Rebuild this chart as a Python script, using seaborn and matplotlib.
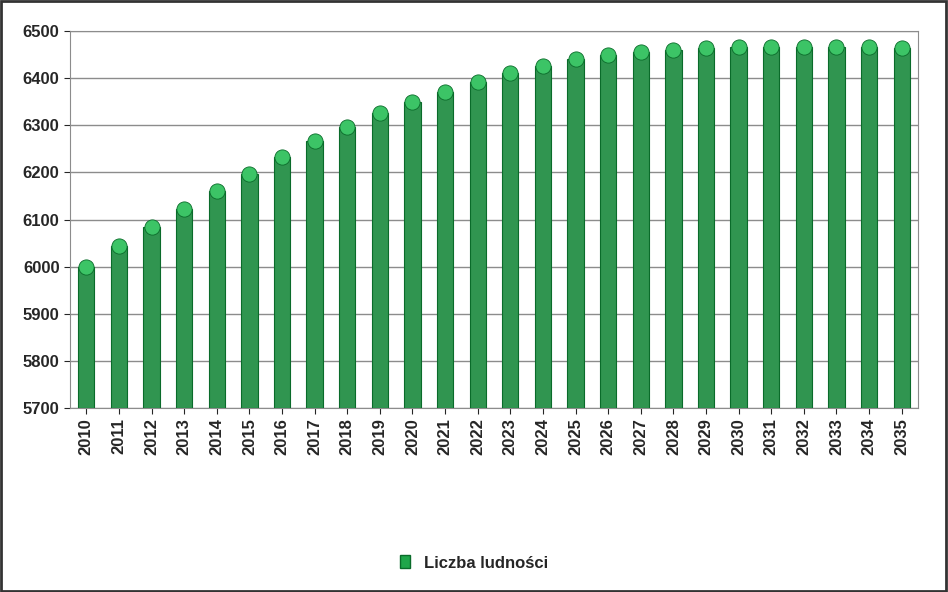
import matplotlib
matplotlib.use("Agg")
import matplotlib.pyplot as plt
import seaborn as sns
import pandas as pd
from matplotlib.patches import Patch

years = [str(y) for y in range(2010, 2036)]
values = [6000, 6043, 6085, 6122, 6160, 6197, 6233, 6266, 6297, 6325, 6350, 6370, 6392,
          6410, 6426, 6440, 6450, 6455, 6460, 6463, 6465, 6466, 6466, 6466, 6465, 6463]
series = "Liczba ludności"

sns.set_style("white")
plt.rcParams['font.family'] = ['Liberation Sans', 'DejaVu Sans']

df = pd.DataFrame({"year": years, "value": values})
fig = plt.figure(figsize=(9.48, 5.92), dpi=100)
fig.patch.set_facecolor("white")
fig.patches.append(matplotlib.patches.Rectangle((0.001, 0.001), 0.997, 0.997, transform=fig.transFigure,
                   fill=False, edgecolor="#333333", linewidth=2))
ax = fig.add_axes([70/948, 1-408/592, 848/948, 377/592])
sns.barplot(data=df, x="year", y="value", color="#1fa64a", width=0.5, ax=ax,
            edgecolor="#0a6b2a", linewidth=0.8, zorder=3)
for bar in ax.patches:
    bar.set_y(5700); bar.set_height(bar.get_height() - 5700)
ax.scatter(range(len(values)), values, s=120, marker="o", color="#3cc466", edgecolor="#0a6b2a",
           linewidth=0.6, zorder=4)
ax.set_ylim(5700, 6500)
ax.set_xlim(-0.5, len(values) - 0.5)
ax.set_yticks(range(5700, 6501, 100))
ax.yaxis.grid(True, color="#8c8c8c", linewidth=1, zorder=0)
ax.set_xlabel(""); ax.set_ylabel("")
ax.tick_params(axis="x", rotation=90, labelsize=12, length=4, bottom=True)
ax.tick_params(axis="y", labelsize=12, length=4, left=True)
for s in ax.spines.values():
    s.set_color("#8c8c8c")
for t in ax.get_xticklabels() + ax.get_yticklabels():
    t.set_fontweight("bold")
fig.legend(handles=[Patch(facecolor="#1fa64a", edgecolor="#0a6b2a", label=series)],
           loc="center", bbox_to_anchor=(0.5, 1-563/592), frameon=False,
           prop={"weight": "bold", "size": 12}, handlelength=0.6, handleheight=0.8)
fig.savefig("out.png", dpi=100)
